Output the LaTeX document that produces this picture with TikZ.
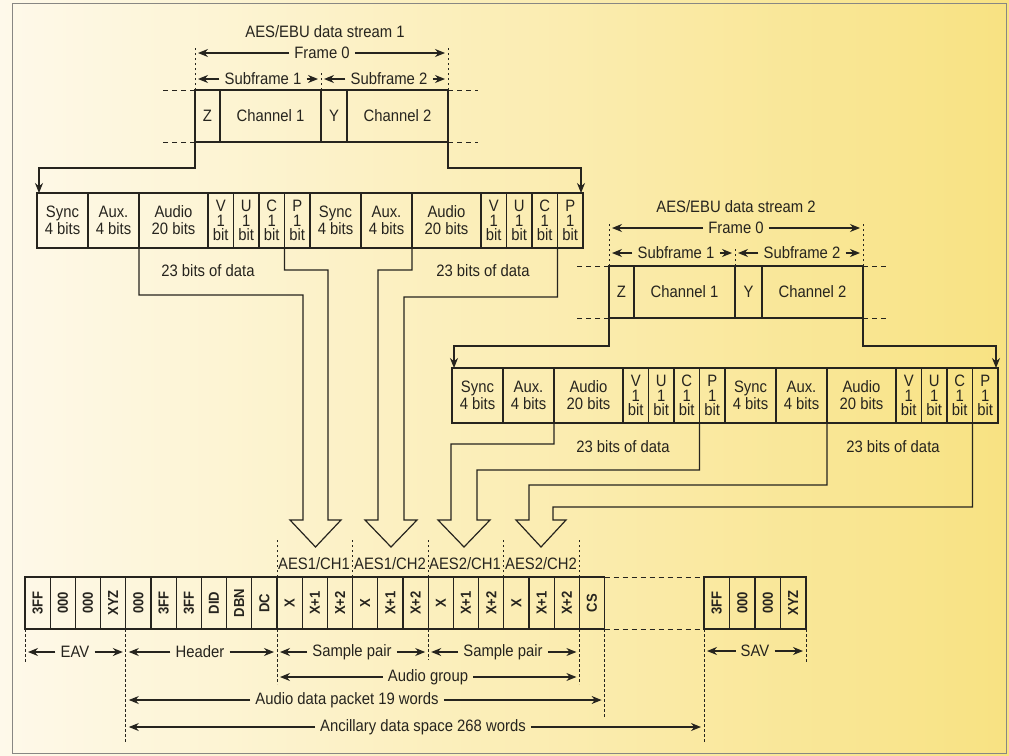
\documentclass[tikz,border=0pt]{standalone}
\usepackage{fontspec}
\setmainfont{Liberation Sans}[FakeStretch=0.9]
\usetikzlibrary{arrows.meta, positioning}
\definecolor{ink}{RGB}{38,36,30}
\definecolor{paperleft}{RGB}{254,249,234}
\definecolor{paperright}{RGB}{248,226,130}
\newcommand{\vword}[1]{\rotatebox{90}{#1}}
\tikzset{
    bitcell/.style={rectangle, draw=ink, line width=1.2pt, minimum height=55pt, inner sep=0pt, outer sep=0pt, align=center, anchor=north west, text=ink, font=\fontsize{16.5}{17}\selectfont},
    onebit/.style={bitcell, minimum width=25.5pt, font=\fontsize{16.5}{14.5}\selectfont},
    chcell/.style={rectangle, draw=ink, line width=1.2pt, minimum height=52pt, inner sep=0pt, outer sep=0pt, align=center, anchor=north west, text=ink, font=\fontsize{16.5}{17}\selectfont},
    word/.style={rectangle, draw=ink, line width=1.2pt, minimum width=25.2pt, minimum height=52pt, inner sep=0pt, outer sep=0pt, anchor=north west, text=ink, font=\bfseries\fontsize{14.5}{16}\selectfont},
    label/.style={inner sep=1pt, text=ink, font=\fontsize{16.5}{17}\selectfont},
    dimtext/.style={label, inner xsep=5pt},
    arrow/.style={draw=ink, line width=1.2pt, -{Stealth[length=10pt,width=8pt]}},
    guide/.style={draw=ink, line width=0.9pt, dash pattern=on 2.5pt off 2.5pt},
    ext/.style={draw=ink, line width=0.9pt, dash pattern=on 5pt off 4pt},
    pipe/.style={draw=ink, line width=1.2pt, line join=miter}
}

\begin{document}
\begin{tikzpicture}[x=1pt, y=-1pt]
    \useasboundingbox (0,0) rectangle (1009,755);
    \shade[left color=paperleft, right color=paperright] (0,0) rectangle (1009,755);
    \draw[ink!55, line width=1pt] (12.5,3) rectangle (1006,753);

    % AES/EBU stream 1
    \node (title1) [label] at (325,32) {AES/EBU data stream 1};
    \node (z1) [chcell, minimum width=25pt] at (195,90) {Z};
    \node (chA1) [chcell, minimum width=101pt, right=0pt of z1] {Channel 1};
    \node (y1) [chcell, minimum width=26pt, right=0pt of chA1] {Y};
    \node (chB1) [chcell, minimum width=101pt, right=0pt of y1] {Channel 2};
    \node (frame1) [dimtext] at (322,53) {Frame 0};
    \node (subA1) [dimtext] at (263,79) {Subframe 1};
    \node (subB1) [dimtext] at (389,79) {Subframe 2};

    \draw[guide] (z1.north west) -- ++(0,-44);
    \draw[guide] (chB1.north east) -- ++(0,-44);
    \draw[guide] (y1.north west) -- ++(0,-19);
    \draw[ext] (z1.north west) -- ++(-34,0);
    \draw[ext] (z1.south west) -- ++(-34,0);
    \draw[ext] (chB1.north east) -- ++(30,0);
    \draw[ext] (chB1.south east) -- ++(30,0);
    \draw[arrow, shorten >=3pt] (frame1.west) -- (frame1.west -| z1.west);
    \draw[arrow, shorten >=3pt] (frame1.east) -- (frame1.east -| chB1.east);
    \draw[arrow, shorten >=3pt] (subA1.west) -- (subA1.west -| z1.west);
    \draw[arrow, shorten >=3pt] (subA1.east) -- (subA1.east -| y1.west);
    \draw[arrow, shorten >=3pt] (subB1.west) -- (subB1.west -| y1.west);
    \draw[arrow, shorten >=3pt] (subB1.east) -- (subB1.east -| chB1.east);

    % subframes of stream 1
    \node (sync1a) [bitcell, minimum width=51pt] at (37,193) {Sync\\4 bits};
    \node (aux1a) [bitcell, minimum width=51pt, right=0pt of sync1a] {Aux.\\4 bits};
    \node (audio1a) [bitcell, minimum width=69pt, right=0pt of aux1a] {Audio\\20 bits};
    \node (v1a) [onebit, right=0pt of audio1a] {V\\1\\bit};
    \node (u1a) [onebit, right=0pt of v1a] {U\\1\\bit};
    \node (c1a) [onebit, right=0pt of u1a] {C\\1\\bit};
    \node (p1a) [onebit, right=0pt of c1a] {P\\1\\bit};
    \node (sync1b) [bitcell, minimum width=51pt, right=0pt of p1a] {Sync\\4 bits};
    \node (aux1b) [bitcell, minimum width=51pt, right=0pt of sync1b] {Aux.\\4 bits};
    \node (audio1b) [bitcell, minimum width=69pt, right=0pt of aux1b] {Audio\\20 bits};
    \node (v1b) [onebit, right=0pt of audio1b] {V\\1\\bit};
    \node (u1b) [onebit, right=0pt of v1b] {U\\1\\bit};
    \node (c1b) [onebit, right=0pt of u1b] {C\\1\\bit};
    \node (p1b) [onebit, right=0pt of c1b] {P\\1\\bit};
    \node (data1a) [label] at (208,271) {23 bits of data};
    \node (data1b) [label] at (483,271) {23 bits of data};

    \draw[arrow] (z1.south west) -- ++(0,26) -| ([xshift=2pt]sync1a.north west);
    \draw[arrow] (chB1.south east) -- ++(0,26) -| ([xshift=-2pt]p1b.north east);

    % AES/EBU stream 2
    \node (title2) [label] at (736,207) {AES/EBU data stream 2};
    \node (z2) [chcell, minimum width=25pt] at (609,266) {Z};
    \node (chA2) [chcell, minimum width=101pt, right=0pt of z2] {Channel 1};
    \node (y2) [chcell, minimum width=27pt, right=0pt of chA2] {Y};
    \node (chB2) [chcell, minimum width=101pt, right=0pt of y2] {Channel 2};
    \node (frame2) [dimtext] at (736,228) {Frame 0};
    \node (subA2) [dimtext] at (676,253) {Subframe 1};
    \node (subB2) [dimtext] at (802,253) {Subframe 2};

    \draw[guide] (z2.north west) -- ++(0,-44);
    \draw[guide] (chB2.north east) -- ++(0,-44);
    \draw[guide] (y2.north west) -- ++(0,-19);
    \draw[ext] (z2.north west) -- ++(-34,0);
    \draw[ext] (z2.south west) -- ++(-34,0);
    \draw[ext] (chB2.north east) -- ++(26,0);
    \draw[ext] (chB2.south east) -- ++(26,0);
    \draw[arrow, shorten >=3pt] (frame2.west) -- (frame2.west -| z2.west);
    \draw[arrow, shorten >=3pt] (frame2.east) -- (frame2.east -| chB2.east);
    \draw[arrow, shorten >=3pt] (subA2.west) -- (subA2.west -| z2.west);
    \draw[arrow, shorten >=3pt] (subA2.east) -- (subA2.east -| y2.west);
    \draw[arrow, shorten >=3pt] (subB2.west) -- (subB2.west -| y2.west);
    \draw[arrow, shorten >=3pt] (subB2.east) -- (subB2.east -| chB2.east);

    % subframes of stream 2
    \node (sync2a) [bitcell, minimum width=51pt] at (452,368) {Sync\\4 bits};
    \node (aux2a) [bitcell, minimum width=51pt, right=0pt of sync2a] {Aux.\\4 bits};
    \node (audio2a) [bitcell, minimum width=69pt, right=0pt of aux2a] {Audio\\20 bits};
    \node (v2a) [onebit, right=0pt of audio2a] {V\\1\\bit};
    \node (u2a) [onebit, right=0pt of v2a] {U\\1\\bit};
    \node (c2a) [onebit, right=0pt of u2a] {C\\1\\bit};
    \node (p2a) [onebit, right=0pt of c2a] {P\\1\\bit};
    \node (sync2b) [bitcell, minimum width=51pt, right=0pt of p2a] {Sync\\4 bits};
    \node (aux2b) [bitcell, minimum width=51pt, right=0pt of sync2b] {Aux.\\4 bits};
    \node (audio2b) [bitcell, minimum width=69pt, right=0pt of aux2b] {Audio\\20 bits};
    \node (v2b) [onebit, right=0pt of audio2b] {V\\1\\bit};
    \node (u2b) [onebit, right=0pt of v2b] {U\\1\\bit};
    \node (c2b) [onebit, right=0pt of u2b] {C\\1\\bit};
    \node (p2b) [onebit, right=0pt of c2b] {P\\1\\bit};
    \node (data2a) [label] at (623,447) {23 bits of data};
    \node (data2b) [label] at (893,447) {23 bits of data};

    \draw[arrow] (z2.south west) -- ++(0,28) -| ([xshift=2pt]sync2a.north west);
    \draw[arrow] (chB2.south east) -- ++(0,28) -| ([xshift=-2pt]p2b.north east);

    % hollow arrows into the ancillary packet
    \coordinate (tip1) at (315.5,547);
    \coordinate (tip2) at (391,547);
    \coordinate (tip3) at (464,547);
    \coordinate (tip4) at (541,547);
    \draw[pipe] (audio1a.south west) |- (303,295) -- (303,520) -- (290,520) -- (tip1) -- (341,520) -- (328,520) -- (328,270) -| (p1a.south west);
    \draw[pipe] (audio1b.south west) |- (378,270) -- (378,520) -- (365,520) -- (tip2) -- (417,520) -- (404,520) -- (404,297) -| (p1b.south west);
    \draw[pipe] (audio2a.south west) |- (451,444) -- (451,520) -- (438,520) -- (tip3) -- (490,520) -- (477,520) -- (477,470) -| (p2a.south west);
    \draw[pipe] (audio2b.south west) |- (529,485) -- (529,520) -- (516,520) -- (tip4) -- (566,520) -- (553,520) -- (553,507) -| (p2b.south west);

    % ancillary data words
    \node (eavA) [word] at (25,577) {\vword{3FF}};
    \node (eavB) [word, right=0pt of eavA] {\vword{000}};
    \node (eavC) [word, right=0pt of eavB] {\vword{000}};
    \node (eavD) [word, right=0pt of eavC] {\vword{XYZ}};
    \node (hdrA) [word, right=0pt of eavD] {\vword{000}};
    \node (hdrB) [word, right=0pt of hdrA] {\vword{3FF}};
    \node (hdrC) [word, right=0pt of hdrB] {\vword{3FF}};
    \node (hdrD) [word, right=0pt of hdrC] {\vword{DID}};
    \node (hdrE) [word, right=0pt of hdrD] {\vword{DBN}};
    \node (hdrF) [word, right=0pt of hdrE] {\vword{DC}};
    \node (smpA) [word, right=0pt of hdrF] {\vword{X}};
    \node (smpB) [word, right=0pt of smpA] {\vword{X+1}};
    \node (smpC) [word, right=0pt of smpB] {\vword{X+2}};
    \node (smpD) [word, right=0pt of smpC] {\vword{X}};
    \node (smpE) [word, right=0pt of smpD] {\vword{X+1}};
    \node (smpF) [word, right=0pt of smpE] {\vword{X+2}};
    \node (smpG) [word, right=0pt of smpF] {\vword{X}};
    \node (smpH) [word, right=0pt of smpG] {\vword{X+1}};
    \node (smpI) [word, right=0pt of smpH] {\vword{X+2}};
    \node (smpJ) [word, right=0pt of smpI] {\vword{X}};
    \node (smpK) [word, right=0pt of smpJ] {\vword{X+1}};
    \node (smpL) [word, right=0pt of smpK] {\vword{X+2}};
    \node (cs) [word, right=0pt of smpL] {\vword{CS}};
    \node (savA) [word, minimum width=25.5pt] at (704,577) {\vword{3FF}};
    \node (savB) [word, minimum width=25.5pt, right=0pt of savA] {\vword{000}};
    \node (savC) [word, minimum width=25.5pt, right=0pt of savB] {\vword{000}};
    \node (savD) [word, minimum width=25.5pt, right=0pt of savC] {\vword{XYZ}};
    \draw[ext] (cs.north east) -- (savA.north west);
    \draw[ext] (cs.south east) -- (savA.south west);

    % channel labels
    \node (aes11) [label] at (314,564) {AES1/CH1};
    \node (aes12) [label] at (390,564) {AES1/CH2};
    \node (aes21) [label] at (465,564) {AES2/CH1};
    \node (aes22) [label] at (541,564) {AES2/CH2};
    \draw[guide] (smpA.north west) -- ++(0,-38);
    \draw[guide] (smpD.north west) -- ++(0,-38);
    \draw[guide] (smpG.north west) -- ++(0,-38);
    \draw[guide] (smpJ.north west) -- ++(0,-38);
    \draw[guide] (cs.north west) -- ++(0,-38);

    % spans below the words
    \draw[guide] (eavA.south west) -- ++(0,34);
    \draw[guide] (hdrA.south west) -- ++(0,113);
    \draw[guide] (smpA.south west) -- ++(0,55);
    \draw[guide] (smpG.south west) -- ++(0,31);
    \draw[guide] (cs.south west) -- ++(0,55);
    \draw[guide] (cs.south east) -- ++(0,88);
    \draw[guide] (savA.south west) -- ++(0,113);
    \draw[guide] (savD.south east) -- ++(0,33);

    \node (eav) [dimtext] at (75,652) {EAV};
    \node (header) [dimtext] at (200,652) {Header};
    \node (pairA) [dimtext] at (352,652) {Sample pair};
    \node (pairB) [dimtext] at (503,652) {Sample pair};
    \node (group) [dimtext] at (428,677) {Audio group};
    \node (packet) [dimtext] at (347,700) {Audio data packet 19 words};
    \node (space) [dimtext] at (423,727) {Ancillary data space 268 words};
    \node (sav) [dimtext] at (755,651) {SAV};

    \draw[arrow, shorten >=3pt] (eav.west) -- (eav.west -| eavA.west);
    \draw[arrow, shorten >=3pt] (eav.east) -- (eav.east -| hdrA.west);
    \draw[arrow, shorten >=3pt] (header.west) -- (header.west -| hdrA.west);
    \draw[arrow, shorten >=3pt] (header.east) -- (header.east -| smpA.west);
    \draw[arrow, shorten >=3pt] (pairA.west) -- (pairA.west -| smpA.west);
    \draw[arrow, shorten >=3pt] (pairA.east) -- (pairA.east -| smpG.west);
    \draw[arrow, shorten >=3pt] (pairB.west) -- (pairB.west -| smpG.west);
    \draw[arrow, shorten >=3pt] (pairB.east) -- (pairB.east -| cs.west);
    \draw[arrow, shorten >=3pt] (group.west) -- (group.west -| smpA.west);
    \draw[arrow, shorten >=3pt] (group.east) -- (group.east -| cs.west);
    \draw[arrow, shorten >=3pt] (packet.west) -- (packet.west -| hdrA.west);
    \draw[arrow, shorten >=3pt] (packet.east) -- (packet.east -| cs.east);
    \draw[arrow, shorten >=3pt] (space.west) -- (space.west -| hdrA.west);
    \draw[arrow, shorten >=3pt] (space.east) -- (space.east -| savA.west);
    \draw[arrow, shorten >=3pt] (sav.west) -- (sav.west -| savA.west);
    \draw[arrow, shorten >=3pt] (sav.east) -- (sav.east -| savD.east);
\end{tikzpicture}
\end{document}
